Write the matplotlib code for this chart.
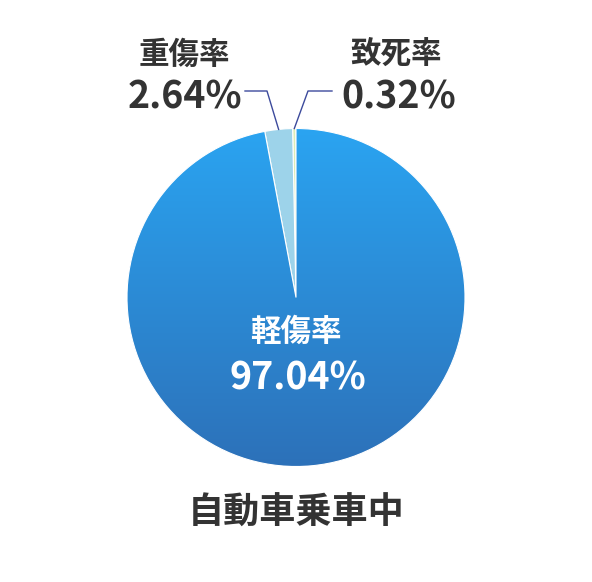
import numpy as np
import matplotlib
matplotlib.use("Agg")
import matplotlib.pyplot as plt
from matplotlib.colors import LinearSegmentedColormap

plt.rcParams['font.family'] = ['Noto Sans CJK JP', 'DejaVu Sans']

# data
labels = ['致死率', '重傷率', '軽傷率']
values = [0.32, 2.64, 97.04]
colors = ['#dcecb8', '#9dd3ea', '#2a9be8']
title = '自動車乗車中'

W, H = 592, 582
fig = plt.figure(figsize=(W / 100, H / 100), dpi=100)
ax = fig.add_axes([0, 0, 1, 1])

cx, cy, r = 296, H - 297.5, 169
wedges, _ = ax.pie(values, colors=colors, startangle=90, counterclock=True,
                   center=(cx, cy), radius=r, frame=True,
                   wedgeprops=dict(edgecolor='white', linewidth=0.8))
ax.set_xlim(0, W)
ax.set_ylim(0, H)
ax.set_aspect('equal')
ax.axis('off')

# gradient fill for the big slice
cmap = LinearSegmentedColormap.from_list('blu', ['#2d71b9', '#2aa4f1'])
grad = np.linspace(0, 1, 256).reshape(-1, 1)
im = ax.imshow(grad, cmap=cmap, origin='lower', aspect='auto',
               extent=(cx - r, cx + r, cy - r, cy + r), zorder=wedges[2].get_zorder())
im.set_clip_path(wedges[2])
wedges[2].set_facecolor('none')
wedges[2].set_zorder(im.get_zorder() + 0.1)

# center label
ax.text(cx, H - 332, labels[2], color='white', fontsize=22, fontweight='bold',
        ha='center', va='center')
ax.text(cx + 2, H - 378, f'{values[2]:.2f}%', color='white', fontsize=27,
        fontweight='bold', ha='center', va='center')

# outside labels with leader lines
line_col = '#3c4a9c'
txt_col = '#333333'
angles = 90 + np.cumsum([0] + values[:-1]) * 3.6 + np.array(values) * 3.6 / 2
outside = [
    # idx, elbow x, end x, label x, value x
    (0, 308, 332, 396, 399),
    (1, 267, 245, 184, 185),
]
for i, ex, tx, lx, vx in outside:
    a = np.deg2rad(angles[i])
    px, py = cx + r * np.cos(a), cy + r * np.sin(a)
    ax.plot([px, ex, tx], [py, H - 91, H - 91], color=line_col, lw=1)
    ax.text(lx, H - 55, labels[i], color=txt_col, fontsize=22, fontweight='bold',
            ha='center', va='center')
    ax.text(vx, H - 97, f'{values[i]:.2f}%', color=txt_col, fontsize=27,
            fontweight='bold', ha='center', va='center')

ax.text(cx, H - 513, title, color=txt_col, fontsize=26, fontweight='bold',
        ha='center', va='center')

fig.savefig('out.png', dpi=100, facecolor='white')
